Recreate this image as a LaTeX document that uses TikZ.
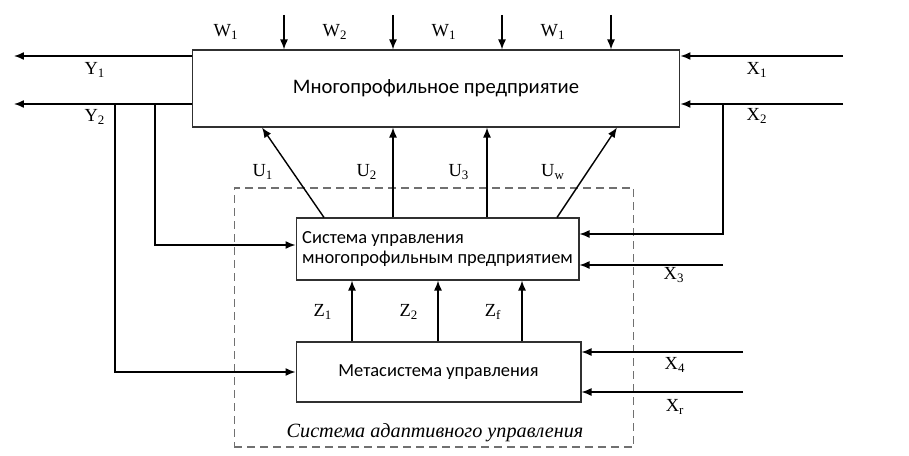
\documentclass[tikz,border=0pt]{standalone}
\usepackage{fontspec}
\setmainfont{Liberation Serif}
\newfontfamily\boxfont{Carlito}
\usetikzlibrary{arrows.meta,positioning,calc}
\definecolor{LineGray}{HTML}{303030}
\definecolor{DashGray}{HTML}{707070}
\tikzset{
  box/.style={draw=LineGray, line width=0.6pt, inner sep=0pt, font=\boxfont\fontsize{11.75}{14}\selectfont},
  arr/.style={-{Latex[length=2mm,width=1.6mm]}, line width=0.8pt, draw=black},
  lbl/.style={font=\fontsize{10.5}{12}\selectfont, inner sep=0pt},
  dashbox/.style={draw=DashGray, line width=0.6pt, dash pattern=on 0.16cm off 0.1cm}
}

\begin{document}
\begin{tikzpicture}[x=0.02cm,y=-0.02cm]
\useasboundingbox (0,0) rectangle (909,456);
% blocks
\node[box, minimum width=9.76cm, minimum height=1.54cm] (ent) at (436,88.5) {Многопрофильное предприятие};
\node[box, minimum width=5.66cm, minimum height=1.24cm, align=left, font=\boxfont\fontsize{10.5}{11.4}\selectfont] (mid) at (437.5,249)
  {Система управления\\многопрофильным предприятием};
\node[box, minimum width=5.7cm, minimum height=1.2cm, font=\boxfont\fontsize{10.5}{12}\selectfont] (meta) at (438.5,372) {Метасистема управления};
\node[dashbox, minimum width=8cm, minimum height=5.18cm] (sau) at (434,317.5) {};
\node[font=\itshape\fontsize{11.5}{14}\selectfont] (saulbl) at (435,433) {Система адаптивного управления};

% disturbances W
\foreach \x/\n [count=\i] in {284/1,393/2,502/1,611/1} {
  \coordinate (w\i) at (\x,15);
  \draw[arr] (w\i) -- (w\i |- ent.north);
  \node[lbl] (wl\i) at (\x-58,32) {W\textsubscript{\n}};
}

% outputs Y and inputs X
\coordinate (y1) at (14,56);
\coordinate (y2) at (14,104);
\coordinate (x1) at (843,56);
\coordinate (x2) at (843,104);
\draw[arr] (ent.west |- y1) -- (y1);
\draw[arr] (ent.west |- y2) -- (y2);
\draw[arr] (x1) -- (x1 -| ent.east);
\draw[arr] (x2) -- (x2 -| ent.east);
\node[lbl] (yl1) at (95,70) {Y\textsubscript{1}};
\node[lbl] (yl2) at (95,117) {Y\textsubscript{2}};
\node[lbl] (xl1) at (757,70) {X\textsubscript{1}};
\node[lbl] (xl2) at (757,116) {X\textsubscript{2}};

% feedback
\coordinate (fb1) at (115,104);
\coordinate (fb2) at (155,104);
\coordinate (fb3) at (723,104);
\draw[arr] (fb1) |- (meta.west);
\draw[arr] (fb2) |- ([yshift=0.08cm]mid.west);
\draw[arr] (fb3) |- ([yshift=0.3cm]mid.east);

% control actions U
\coordinate (ua) at (324,0);
\coordinate (ub) at (262,0);
\coordinate (u2) at (393,0);
\coordinate (u3) at (487,0);
\coordinate (uc) at (557,0);
\coordinate (ud) at (617,0);
\draw[arr] (mid.north -| ua) -- (ent.south -| ub);
\draw[arr] (mid.north -| u2) -- (ent.south -| u2);
\draw[arr] (mid.north -| u3) -- (ent.south -| u3);
\draw[arr] (mid.north -| uc) -- (ent.south -| ud);
\node[lbl] (ul1) at (263,172) {U\textsubscript{1}};
\node[lbl] (ul2) at (367,172) {U\textsubscript{2}};
\node[lbl] (ul3) at (459,172) {U\textsubscript{3}};
\node[lbl] (ulw) at (553,172) {U\textsubscript{w}};

% X3
\coordinate (x3) at (723,265);
\draw[arr] (x3) -- (x3 -| mid.east);
\node[lbl] (xl3) at (674,275) {X\textsubscript{3}};

% Z
\foreach \x/\n [count=\i] in {352/1,438/2,522/f} {
  \coordinate (z\i) at (\x,0);
  \draw[arr] (meta.north -| z\i) -- (mid.south -| z\i);
  \node[lbl] (zl\i) at (\x-29,312) {Z\textsubscript{\n}};
}

% X4, Xr
\coordinate (x4) at (743,352);
\coordinate (xr) at (743,392);
\draw[arr] (x4) -- (x4 -| meta.east);
\draw[arr] (xr) -- (xr -| meta.east);
\node[lbl] (xl4) at (675,365) {X\textsubscript{4}};
\node[lbl] (xlr) at (675,407) {X\textsubscript{r}};
\end{tikzpicture}
\end{document}
